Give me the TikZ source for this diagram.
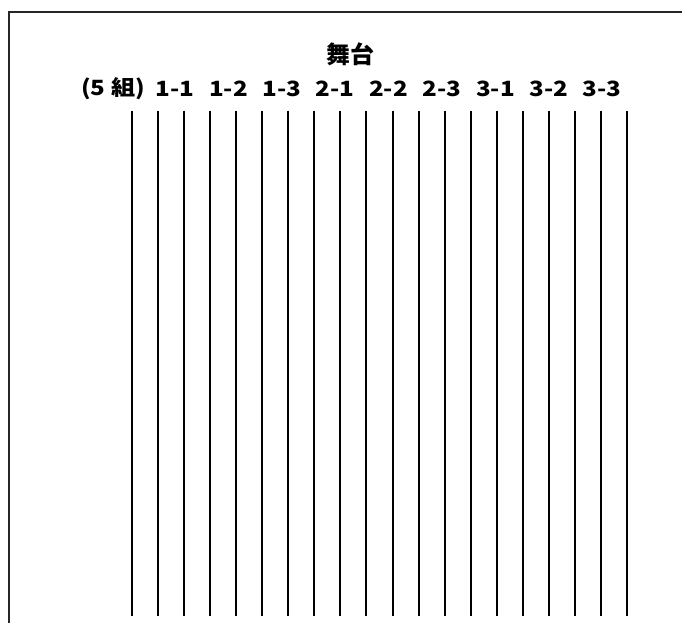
\documentclass[tikz,border=0pt]{standalone}
\usepackage{fontspec}
\setmainfont{Noto Sans CJK JP}
\usepackage{tikz}
\usetikzlibrary{positioning}

\begin{document}
\begin{tikzpicture}[
  x=1pt, y=-1pt,
  title/.style={font=\fontsize{24}{24}\selectfont\bfseries, inner sep=0pt},
  label/.style={font=\fontsize{21}{21}\selectfont\bfseries, inner sep=0pt, xscale=1.15},
  frame/.style={line width=2pt, black!85},
  seat/.style={line width=2pt, black}
]
  \useasboundingbox (0,0) rectangle (682,623);
  \clip (0,0) rectangle (682,623);

  % Frame
  \coordinate (fbl) at (9,640);
  \coordinate (ftl) at (9,11.7);
  \coordinate (ftr) at (700,11.7);
  \draw[frame] (fbl) -- (ftl) -- (ftr);

  % Stage
  \node[title] (stage) at (350,54) {舞台};

  % Group labels
  \node[label] (groups) at (113,89) {(5 組)};
  \foreach \name [count=\i from 0] in {1-1,1-2,1-3,2-1,2-2,2-3,3-1,3-2,3-3}
    \node[label] (g\i) at (175+53.4*\i,89) {\name};

  % Seat lines
  \foreach \i in {0,...,19} {
    \coordinate (top\i) at (131.7+26.08*\i,110.7);
    \coordinate (bot\i) at (131.7+26.08*\i,615.7);
    \draw[seat] (top\i) -- (bot\i);
  }
\end{tikzpicture}
\end{document}
